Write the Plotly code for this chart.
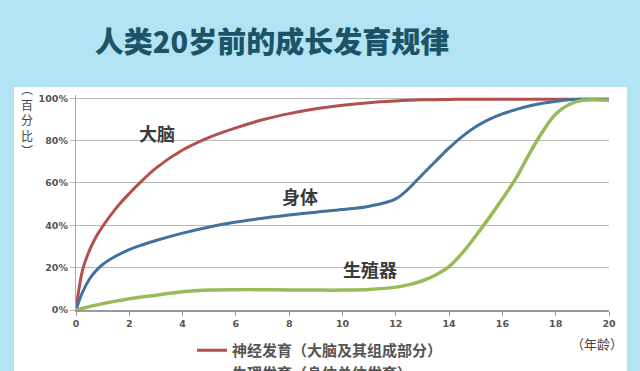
import plotly.graph_objects as go

# ---------------- data ----------------
age = [0, 0.25, 0.5, 0.75, 1, 1.5, 2, 2.5, 3, 4, 5, 6, 7, 8, 9, 10, 11, 12,
       12.5, 13, 13.5, 14, 14.5, 15, 15.5, 16, 16.5, 17, 17.5, 18, 18.5, 19, 20]

brain = [0, 19, 28, 34.5, 39.5, 48, 55, 61.3, 67, 75.5, 81.5, 86, 89.8,
         92.7, 95, 96.7, 97.9, 98.7, 99, 99.2, 99.3, 99.4, 99.5, 99.5, 99.5,
         99.5, 99.5, 99.5, 99.5, 99.5, 99.5, 99.5, 99.5]

body = [0, 8.5, 14.5, 18.5, 21.5, 25.5, 28.5, 30.8, 32.8, 36.3, 39.2, 41.5, 43.3,
        44.8, 46.2, 47.4, 49, 52.5, 57.5, 64, 70.3, 76.5, 82, 86.5, 90,
        92.6, 94.6, 96.3, 97.6, 98.5, 99.2, 99.5, 99.5]

repro = [0, 0.8, 1.6, 2.3, 3, 4.2, 5.3, 6.2, 7, 8.6, 9.4, 9.6, 9.6, 9.5,
         9.4, 9.4, 9.7, 10.8, 12, 13.8, 16.5, 20.5, 27, 35, 43.5, 52.5, 62,
         73.5, 84, 92.5, 97, 99, 99]

series_names = ["神经发育（大脑及其组成部分）", "生理发育（身体总体发育）", "生殖发育（生殖器官）"]
curve_labels = ["大脑", "身体", "生殖器"]
y_ticks = [0, 20, 40, 60, 80, 100]
y_tick_text = ["0%", "20%", "40%", "60%", "80%", "100%"]
x_ticks = [0, 2, 4, 6, 8, 10, 12, 14, 16, 18, 20]

title_text = "人类20岁前的成长发育规律"
y_title_text = "︵<br>百<br>分<br>比<br>︶"
x_title_text = "（年龄）"

# ---------------- styling ----------------
W, H = 640, 371
PL, PR, PT, PB = 76, 609, 95, 310  # plot area in pixels
RED, BLUE, GREEN = "#b3504d", "#41719c", "#98ba58"
BG_BLUE = "#b2e4f5"
CJK = "Noto Sans CJK SC"


def px(x):
    return (x - PL) / (PR - PL)


def py(y):
    return (PB - y) / (PB - PT)


fig = go.Figure()
for vals, name, col, w in [(brain, series_names[0], RED, 3),
                           (body, series_names[1], BLUE, 3),
                           (repro, series_names[2], GREEN, 3.5)]:
    fig.add_trace(go.Scatter(x=age, y=vals, name=name, mode="lines",
                             line=dict(color=col, width=w, shape="spline", smoothing=1.1)))

annotations = []
for txt, (lx, ly) in zip(curve_labels, [(3.05, 83.5), (8.4, 53.8), (11.05, 19.2)]):
    annotations.append(dict(x=lx, y=ly, xref="x", yref="y", text=txt, showarrow=False,
                            font=dict(family=CJK, size=18, color="#3a3a3a", weight="bold")))
annotations.append(dict(x=px(27), y=py(119), xref="paper", yref="paper", text=y_title_text,
                        showarrow=False, xanchor="center", yanchor="middle",
                        font=dict(family=CJK, size=12, color="#444444")))
annotations.append(dict(x=px(597), y=py(343), xref="paper", yref="paper", text=x_title_text,
                        showarrow=False, xanchor="center", yanchor="middle",
                        font=dict(family=CJK, size=13, color="#444444")))

fig.update_layout(
    width=W, height=H,
    margin=dict(l=PL, r=W - PR, t=PT, b=H - PB, autoexpand=False),
    paper_bgcolor=BG_BLUE,
    plot_bgcolor="white",
    title=dict(text=title_text, x=272 / W, y=1 - 43 / H, xref="container",
               yref="container", xanchor="center", yanchor="middle",
               font=dict(family=CJK, size=29, color="#1b5466", weight=900)),
    shapes=[dict(type="rect", xref="paper", yref="paper", x0=px(14), x1=px(627),
                 y0=py(380), y1=py(87), fillcolor="white", line=dict(width=0), layer="below")],
    showlegend=True,
    legend=dict(x=px(192), y=py(334), xanchor="left", yanchor="top", orientation="v",
                bgcolor="rgba(0,0,0,0)", itemwidth=30, tracegroupgap=0,
                font=dict(family=CJK, size=15, color="#555555", weight="bold")),
    annotations=annotations,
    xaxis=dict(range=[0, 20], tickvals=x_ticks, showgrid=False, zeroline=False,
               showline=True, linecolor="#9a9a9a", linewidth=1.5,
               ticks="outside", ticklen=4, tickcolor="#9a9a9a",
               tickfont=dict(family="DejaVu Sans", size=9.5, color="#555555", weight="bold")),
    yaxis=dict(range=[0, 101.5], tickvals=y_ticks, ticktext=y_tick_text, showgrid=True,
               gridcolor="#b8b8b8", gridwidth=1.3, zeroline=False,
               showline=True, linecolor="#a8a8a8", linewidth=1.3,
               ticks="outside", ticklen=5, tickcolor="#b8b8b8",
               tickfont=dict(family="DejaVu Sans", size=9.5, color="#555555", weight="bold")),
)

fig.write_html("out.html", config={"displayModeBar": False},
               post_script="document.body.style.margin='0';document.body.style.overflow='hidden';")
